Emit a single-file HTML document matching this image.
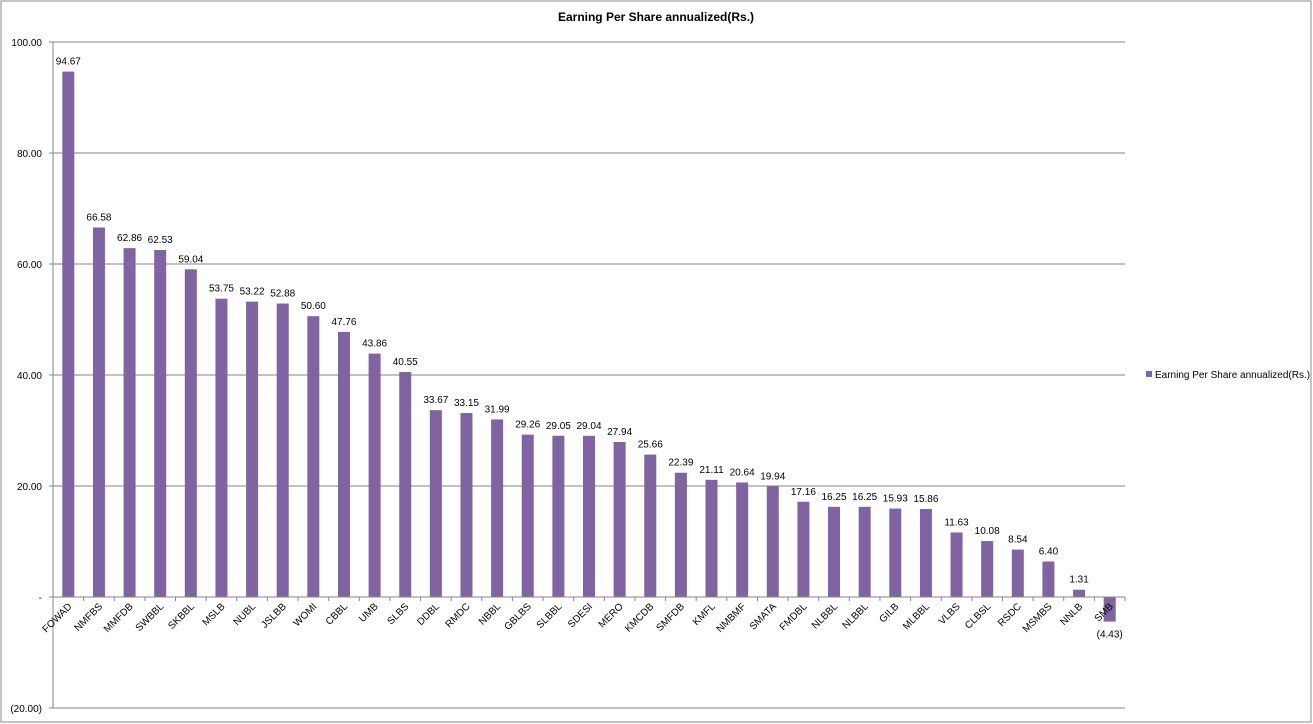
<!DOCTYPE html>
<html><head><meta charset="utf-8"><style>
body{margin:0;background:#fff;}
svg{display:block;font-family:"Liberation Sans",sans-serif;}
</style></head><body>
<svg id="chart" width="1313" height="724">
<rect x="1" y="1" width="1310" height="721" fill="#fff" stroke="#888"/>
<text x="656" y="21" text-anchor="middle" font-size="12" font-weight="bold">Earning Per Share annualized(Rs.)</text>
<g id="grid"></g><g id="bars"></g><g id="axis"></g>
<rect x="1146" y="371" width="6" height="6" fill="#8064a2"/>
<text x="1155" y="378" font-size="10">Earning Per Share annualized(Rs.)</text>
</svg>
<script>
const categories=["FOWAD","NMFBS","MMFDB","SWBBL","SKBBL","MSLB","NUBL","JSLBB","WOMI","CBBL","UMB","SLBS","DDBL","RMDC","NBBL","GBLBS","SLBBL","SDESI","MERO","KMCDB","SMFDB","KMFL","NMBMF","SMATA","FMDBL","NLBBL","NLBBL","GILB","MLBBL","VLBS","CLBSL","RSDC","MSMBS","NNLB","SMB"];
const values=[94.67,66.58,62.86,62.53,59.04,53.75,53.22,52.88,50.60,47.76,43.86,40.55,33.67,33.15,31.99,29.26,29.05,29.04,27.94,25.66,22.39,21.11,20.64,19.94,17.16,16.25,16.25,15.93,15.86,11.63,10.08,8.54,6.40,1.31,-4.43];
const yTicks=[100,80,60,40,20,0,-20];
const yTickLabels=["100.00","80.00","60.00","40.00","20.00","-","(20.00)"];
const NS="http://www.w3.org/2000/svg";
const X0=53,X1=1125,Ytop=42,Ybot=708,vmax=100,vmin=-20;
const y=v=>Ytop+(vmax-v)/(vmax-vmin)*(Ybot-Ytop);
const bw=(X1-X0)/categories.length;
const x=i=>X0+bw*(i+0.5);
function mk(t,a,p){const e=document.createElementNS(NS,t);for(const k in a)e.setAttribute(k,a[k]);p.appendChild(e);return e;}
const grid=document.getElementById('grid'),bars=document.getElementById('bars'),axis=document.getElementById('axis');
yTicks.forEach((t,i)=>{
  if(t!==0&&t!==-20){const l=mk('line',{x1:X0,x2:X1,y1:y(t),y2:y(t),stroke:'#868686','stroke-width':1},grid);
  
  }
  const tk=mk('line',{x1:X0-4,x2:X0,y1:y(t),y2:y(t),stroke:'#868686'},axis);
  
  
  const tx=mk('text',{x:42,y:y(t)+4,'text-anchor':'end','font-size':10},axis);
  tx.textContent=yTickLabels[i];
  
  
});
const bl=mk('line',{x1:X0,x2:X1,y1:y(-20),y2:y(-20),stroke:'#868686'},axis);


const ya=mk('line',{x1:X0,x2:X0,y1:Ytop,y2:Ybot,stroke:'#868686'},axis);


const xa=mk('line',{x1:X0,x2:X1,y1:y(0),y2:y(0),stroke:'#868686'},axis);


categories.forEach((c,i)=>{
  const v=values[i],cx=x(i),w=12;
  const r=mk('rect',{x:cx-w/2,y:Math.min(y(v),y(0)),width:w,height:Math.abs(y(v)-y(0)),fill:'#8064a2'},bars);
  
  
  const lab=mk('text',{x:cx,y:v>=0?y(v)-7:y(v)+16,'text-anchor':'middle','font-size':10},bars);
  lab.textContent=v>=0?v.toFixed(2):'('+Math.abs(v).toFixed(2)+')';
  
  
  const tk=mk('line',{x1:X0+bw*(i+1),x2:X0+bw*(i+1),y1:y(0),y2:y(0)+4,stroke:'#868686'},axis);
  
  
  const cl=mk('text',{x:cx+4,y:y(0)+10,'text-anchor':'end','font-size':10,transform:`rotate(-45 ${cx+4} ${y(0)+10})`},axis);
  cl.textContent=c;
  
  
});
</script>
</body></html>
